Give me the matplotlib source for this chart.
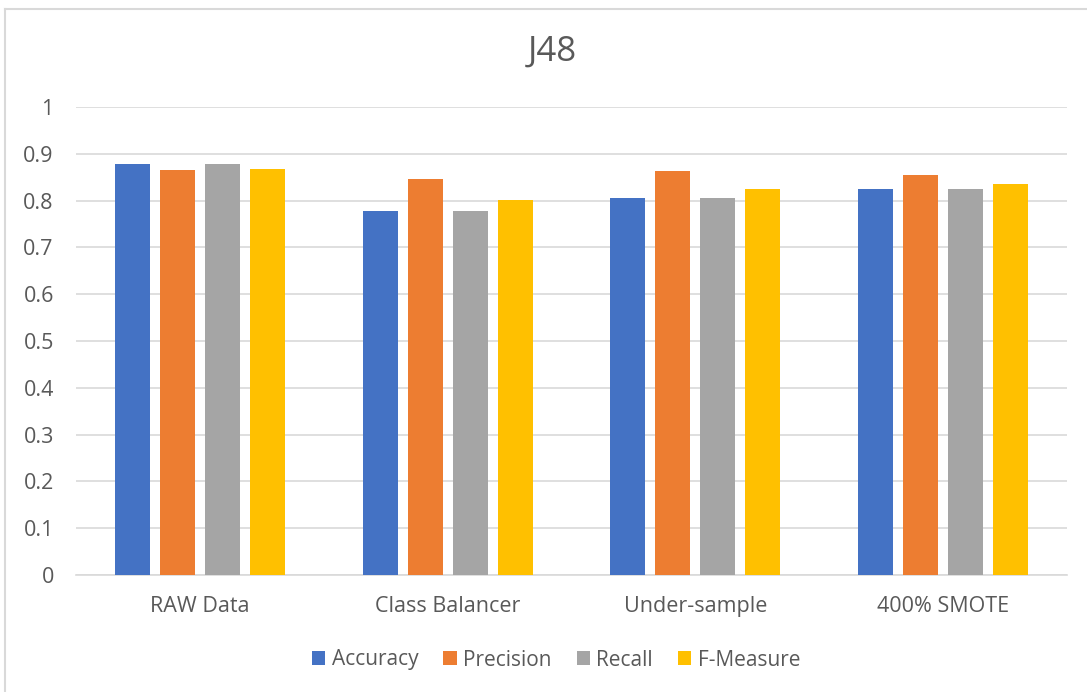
import matplotlib
matplotlib.use("Agg")
import matplotlib.pyplot as plt
import numpy as np
from matplotlib.lines import Line2D

plt.rcParams['font.family'] = ['Open Sans', 'DejaVu Sans']

categories = ["RAW Data", "Class Balancer", "Under-sample", "400% SMOTE"]
series_names = ["Accuracy", "Precision", "Recall", "F-Measure"]
accuracy = [0.879, 0.778, 0.806, 0.825]
precision = [0.865, 0.846, 0.863, 0.855]
recall = [0.879, 0.778, 0.806, 0.825]
f_measure = [0.867, 0.802, 0.825, 0.836]
y_ticks = [0, 0.1, 0.2, 0.3, 0.4, 0.5, 0.6, 0.7, 0.8, 0.9, 1]
y_tick_labels = ["0", "0.1", "0.2", "0.3", "0.4", "0.5", "0.6", "0.7", "0.8", "0.9", "1"]

colors = ["#4472C4", "#ED7D31", "#A5A5A5", "#FFC000"]
text_color = "#595959"
grid_color = "#D9D9D9"

W, H = 1087, 692
fig = plt.figure(figsize=(W / 100, H / 100), dpi=100)

# chart frame (top and left edges visible)
fig.add_artist(Line2D([5 / W, 5 / W], [0, 1 - 8.5 / H], transform=fig.transFigure,
                      color="#D9D9D9", lw=1.5))
fig.add_artist(Line2D([5 / W, 1], [1 - 8.5 / H, 1 - 8.5 / H], transform=fig.transFigure,
                      color="#D9D9D9", lw=1.5))

ax = fig.add_axes([76 / W, 117 / H, (1067 - 76) / W, (575 - 107) / H])

x = np.arange(len(categories)) + 0.5
bar_w = 35 / 247.75
step = 45 / 247.75
all_series = [accuracy, precision, recall, f_measure]
for i, (vals, name, c) in enumerate(zip(all_series, series_names, colors)):
    ax.bar(x + (i - 1.5) * step, vals, width=bar_w, color=c, label=name, zorder=3)

ax.set_xlim(0, len(categories))
ax.set_ylim(0, 1)
ax.set_yticks(y_ticks)
ax.set_yticklabels(y_tick_labels)
ax.set_xticks(x)
ax.set_xticklabels(categories)
ax.tick_params(axis="both", length=0, labelsize=15.5, colors=text_color)
ax.tick_params(axis="y", pad=16)
ax.tick_params(axis="x", pad=15)

ax.grid(axis="y", color=grid_color, lw=1.2, zorder=0)
ax.set_axisbelow(True)
for side in ["top", "right", "left"]:
    ax.spines[side].set_visible(False)
ax.spines["bottom"].set_color(grid_color)
ax.spines["bottom"].set_linewidth(1.2)

fig.text(552 / W, 1 - 52 / H, "J48", ha="center", va="center", fontsize=25, color=text_color)

leg = fig.legend(loc="center", bbox_to_anchor=(556 / W, 1 - 660 / H), ncol=4, frameon=False,
                 fontsize=15, handlelength=0.65, handleheight=0.65, handletextpad=0.3,
                 columnspacing=1.2)
for t in leg.get_texts():
    t.set_color(text_color)

fig.savefig("out.png", dpi=100, facecolor="white")
